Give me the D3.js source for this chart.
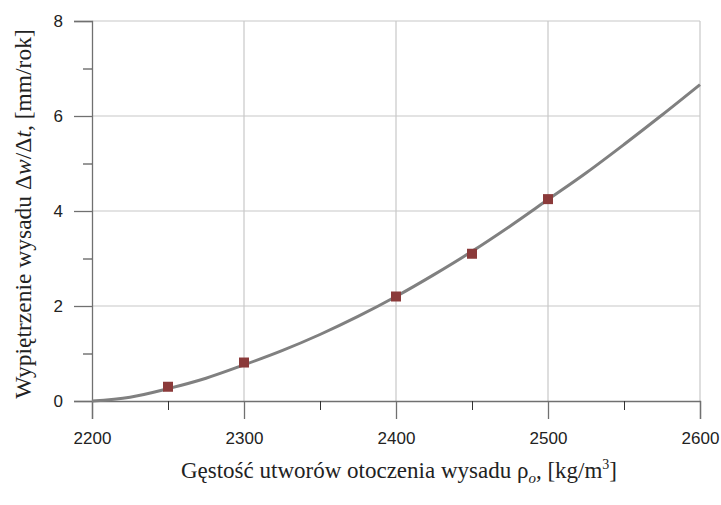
<!DOCTYPE html>
<html><head><meta charset="utf-8">
<script src="https://cdn.jsdelivr.net/npm/d3@7"></script>
<style>body{margin:0;background:#fff}</style>
</head><body>
<svg id="c" width="721" height="505"></svg>
<script>
const curveX = [2200,2225,2250,2275,2300,2325,2350,2375,2400,2425,2450,2475,2500,2525,2550,2575,2600];
const curveY = [0,0.08,0.26,0.48,0.76,1.06,1.4,1.78,2.2,2.66,3.15,3.68,4.24,4.8,5.4,6.02,6.66];
const pointX = [2250,2300,2400,2450,2500];
const pointY = [0.3,0.81,2.2,3.1,4.25];
const xTicks = [2200,2300,2400,2500,2600];
const yTicks = [0,2,4,6,8];
const xMinor = [2250,2350,2450,2550];
const yMinor = [1,3,5,7];

const svg = d3.select("#c");
const x = d3.scaleLinear().domain([2200,2600]).range([92,700]);
const y = d3.scaleLinear().domain([0,8]).range([401,21]);

// grid
svg.append("g").selectAll("line").data(xTicks.slice(1)).join("line")
  .attr("x1",d=>x(d)).attr("x2",d=>x(d)).attr("y1",y(0)).attr("y2",y(8))
  .attr("stroke","#c8c8c8").attr("stroke-width",1.2);
svg.append("g").selectAll("line").data(yTicks.slice(1)).join("line")
  .attr("x1",x(2200)).attr("x2",x(2600)).attr("y1",d=>y(d)).attr("y2",d=>y(d))
  .attr("stroke","#c8c8c8").attr("stroke-width",1.2);

const tickFont = "Liberation Sans, Arial, sans-serif";
// axes
const xAxis = d3.axisBottom(x).tickValues(xTicks).tickSize(18).tickPadding(13).tickFormat(d3.format("d"));
const gx = svg.append("g").attr("transform",`translate(0,${y(0)})`).call(xAxis);
gx.select(".domain").attr("stroke","#707070").attr("stroke-width",1.3);
gx.selectAll(".tick line").attr("stroke","#707070").attr("stroke-width",1.3);
gx.selectAll("text").attr("font-family",tickFont).attr("font-size",17).attr("fill","#222");
const gxm = svg.append("g").attr("transform",`translate(0,${y(0)})`)
  .call(d3.axisBottom(x).tickValues(xMinor).tickSize(9).tickFormat(""));
gxm.select(".domain").remove();
gxm.selectAll(".tick line").attr("stroke","#333").attr("stroke-width",1);

const yAxis = d3.axisLeft(y).tickValues(yTicks).tickSize(18).tickPadding(11);
const gy = svg.append("g").attr("transform",`translate(${x(2200)},0)`).call(yAxis);
gy.select(".domain").attr("stroke","#707070").attr("stroke-width",1.3);
gy.selectAll(".tick line").attr("stroke","#707070").attr("stroke-width",1.3);
gy.selectAll("text").attr("font-family",tickFont).attr("font-size",17).attr("fill","#222");
const gym = svg.append("g").attr("transform",`translate(${x(2200)},0)`)
  .call(d3.axisLeft(y).tickValues(yMinor).tickSize(9).tickFormat(""));
gym.select(".domain").remove();
gym.selectAll(".tick line").attr("stroke","#333").attr("stroke-width",1);

// curve
const data = curveX.map((d,i)=>[d,curveY[i]]);
svg.append("path").datum(data)
  .attr("d", d3.line().x(d=>x(d[0])).y(d=>y(d[1])).curve(d3.curveMonotoneX))
  .attr("fill","none").attr("stroke","#808080").attr("stroke-width",3);

// points
const s = 10;
svg.append("g").selectAll("rect").data(pointX.map((d,i)=>[d,pointY[i]])).join("rect")
  .attr("x",d=>x(d[0])-s/2).attr("y",d=>y(d[1])-s/2).attr("width",s).attr("height",s)
  .attr("fill","#8b3a3a");

// titles
const titleFont = "'Liberation Serif', 'Times New Roman', serif";
const xt = svg.append("text").attr("x",399).attr("y",478).attr("text-anchor","middle")
  .attr("font-family",titleFont).attr("font-size",23).attr("fill","#222");
xt.append("tspan").text("Gęstość utworów otoczenia wysadu ρ");
xt.append("tspan").attr("font-style","italic").attr("font-size",15).attr("dy",5).text("o");
xt.append("tspan").attr("dy",-5).text(", [kg/m");
xt.append("tspan").attr("font-size",14).attr("dy",-9).text("3");
xt.append("tspan").attr("dy",9).text("]");

const yt = svg.append("text").attr("transform","translate(31,214) rotate(-90)").attr("text-anchor","middle")
  .attr("font-family",titleFont).attr("font-size",23.5).attr("fill","#222");
yt.append("tspan").text("Wypiętrzenie wysadu Δ");
yt.append("tspan").attr("font-style","italic").text("w");
yt.append("tspan").text("/Δ");
yt.append("tspan").attr("font-style","italic").text("t");
yt.append("tspan").text(", [mm/rok]");
</script>
</body></html>
